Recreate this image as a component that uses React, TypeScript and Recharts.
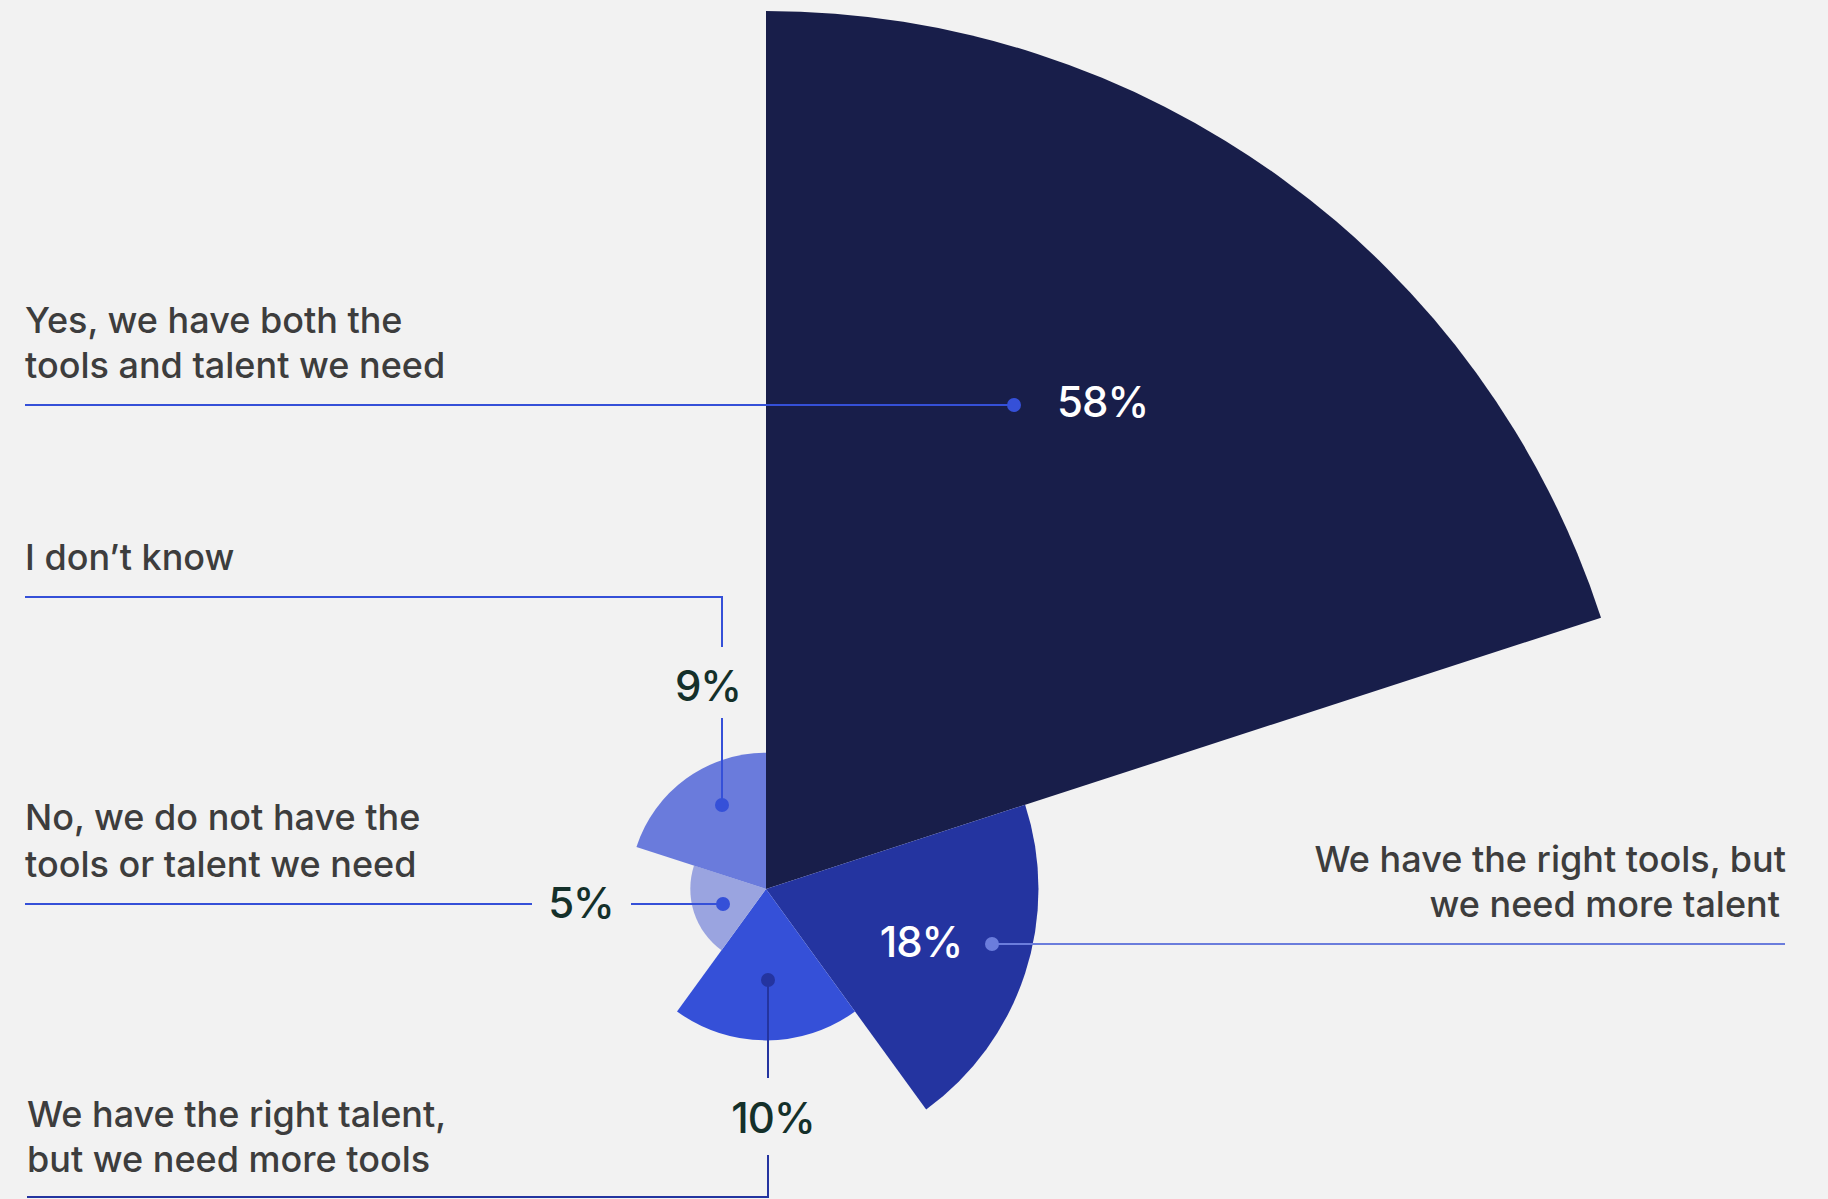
import { RadialBarChart, RadialBar, PolarAngleAxis, PolarRadiusAxis, Cell } from 'recharts';

// survey answers, clockwise from 12 o'clock
const answers = [
  'Yes, we have both the tools and talent we need',
  'We have the right tools, but we need more talent',
  'We have the right talent, but we need more tools',
  'No, we do not have the tools or talent we need',
  'I don\u2019t know',
];
const shares = [58, 18, 10, 5, 9];
const sliceColors = ['#181e4a', '#2434a0', '#3550d8', '#9aa4e0', '#6a7bdc'];

const data = answers.map((name, i) => ({ name, value: shares[i] }));

const W = 1828;
const H = 1199;
const FONT = 'Inter, "Noto Sans", sans-serif';
const TEXT = '#3d3d3d';
const DARK_PCT = '#14302a';
const BLUE = '#3550d8';

// leader lines, dots and text sit on top of the slices
function Annotations() {
  const labelStyle = { fontFamily: FONT, fontSize: 36, fontWeight: 500, fill: TEXT };
  const pctStyle = { fontFamily: FONT, fontSize: 42, fontWeight: 500, letterSpacing: -1 };
  return (
    <svg width={W} height={H} style={{ position: 'absolute', left: 0, top: 0, pointerEvents: 'none' }}>
      {/* 58% */}
      <text x={25} y={333} style={labelStyle}>Yes, we have both the</text>
      <text x={25} y={378} style={labelStyle}>tools and talent we need</text>
      <line x1={25} y1={405} x2={1014} y2={405} stroke={BLUE} strokeWidth={2} />
      <circle cx={1014} cy={405} r={7} fill={BLUE} />
      <text x={1057} y={417} style={{ ...pctStyle, fill: '#ffffff' }}>58%</text>

      {/* 9% */}
      <text x={25} y={570} style={labelStyle}>I don’t know</text>
      <polyline points="25,597 722,597 722,647" fill="none" stroke={BLUE} strokeWidth={2} />
      <text x={708} y={701} textAnchor="middle" style={{ ...pctStyle, fill: DARK_PCT }}>9%</text>
      <line x1={722} y1={718} x2={722} y2={805} stroke={BLUE} strokeWidth={2} />
      <circle cx={722} cy={805} r={7} fill={BLUE} />

      {/* 5% */}
      <text x={25} y={830} style={labelStyle}>No, we do not have the</text>
      <text x={25} y={877} style={labelStyle}>tools or talent we need</text>
      <line x1={25} y1={904} x2={532} y2={904} stroke={BLUE} strokeWidth={2} />
      <text x={581} y={918} textAnchor="middle" style={{ ...pctStyle, fill: DARK_PCT }}>5%</text>
      <line x1={631} y1={904} x2={723} y2={904} stroke={BLUE} strokeWidth={2} />
      <circle cx={723} cy={904} r={7} fill={BLUE} />

      {/* 18% */}
      <text x={1786} y={872} textAnchor="end" style={labelStyle}>We have the right tools, but</text>
      <text x={1780} y={917} textAnchor="end" style={labelStyle}>we need more talent</text>
      <line x1={992} y1={944} x2={1785} y2={944} stroke="#6b7ddc" strokeWidth={2} />
      <circle cx={992} cy={944} r={7} fill="#6b7ddc" />
      <text x={921} y={957} textAnchor="middle" style={{ ...pctStyle, fill: '#ffffff' }}>18%</text>

      {/* 10% */}
      <circle cx={768} cy={980} r={7} fill="#2434a0" />
      <line x1={768} y1={980} x2={768} y2={1078} stroke="#2434a0" strokeWidth={2} />
      <text x={773} y={1133} textAnchor="middle" style={{ ...pctStyle, fill: DARK_PCT }}>10%</text>
      <polyline points="768,1155 768,1197 27,1197" fill="none" stroke="#2434a0" strokeWidth={2} />
      <text x={27} y={1127} style={labelStyle}>We have the right talent,</text>
      <text x={27} y={1172} style={labelStyle}>but we need more tools</text>
    </svg>
  );
}

export default function App() {
  return (
    <div style={{ position: 'absolute', left: 0, top: 0, width: W, height: H, background: '#f2f2f2', overflow: 'hidden' }}>
      <RadialBarChart
        width={W}
        height={H}
        data={data}
        cx={766}
        cy={889}
        innerRadius={0}
        outerRadius={878}
        startAngle={18}
        endAngle={-342}
        layout="centric"
        barCategoryGap={0}
        barGap={0}
        margin={{ top: 0, right: 0, bottom: 0, left: 0 }}
      >
        <PolarAngleAxis type="category" dataKey="name" tick={false} axisLine={false} />
        <PolarRadiusAxis type="number" domain={[0, 58]} tick={false} axisLine={false} />
        <RadialBar dataKey="value" isAnimationActive={false}>
          {data.map((d, i) => (
            <Cell key={d.name} fill={sliceColors[i]} stroke="none" />
          ))}
        </RadialBar>
      </RadialBarChart>
      <Annotations />
    </div>
  );
}
